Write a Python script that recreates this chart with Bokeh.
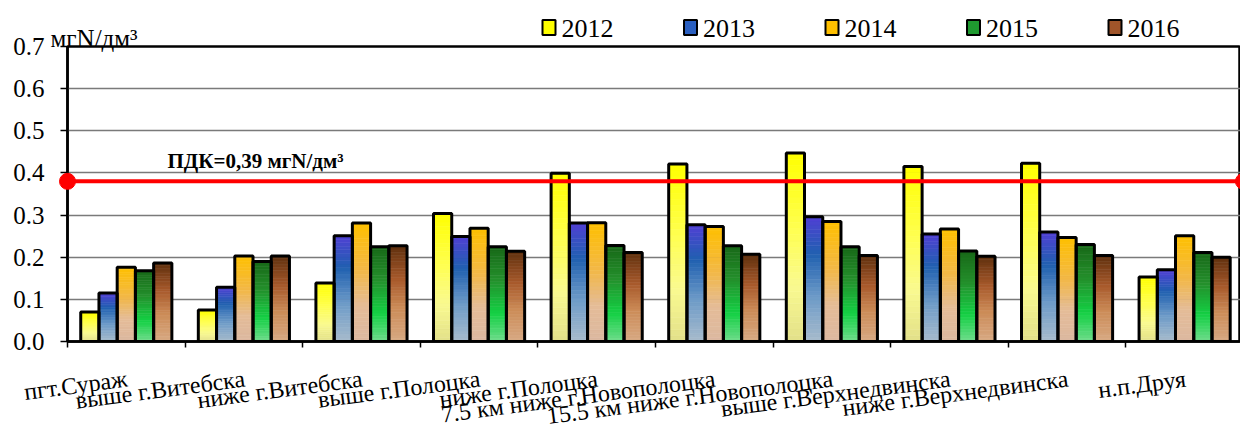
from bokeh.plotting import figure
from bokeh.models import Range1d, FixedTicker, PrintfTickFormatter, ColumnDataSource
from bokeh.core.properties import value
from bokeh.embed import file_html
from bokeh.resources import INLINE

# ---------------- data ----------------
categories = ["пгт.Сураж", "выше г.Витебска", "ниже г.Витебска", "выше г.Полоцка",
              "ниже г.Полоцка", "7.5 км ниже г.Новополоцка", "15.5 км ниже г.Новополоцка",
              "выше г.Верхнедвинска", "ниже г.Верхнедвинска", "н.п.Друя"]
years = ["2012", "2013", "2014", "2015", "2016"]
v2012 = [0.070, 0.075, 0.139, 0.304, 0.399, 0.421, 0.447, 0.415, 0.423, 0.153]
v2013 = [0.115, 0.129, 0.251, 0.249, 0.281, 0.277, 0.296, 0.255, 0.260, 0.170]
v2014 = [0.176, 0.203, 0.281, 0.269, 0.282, 0.273, 0.285, 0.267, 0.247, 0.251]
v2015 = [0.168, 0.190, 0.225, 0.225, 0.228, 0.227, 0.225, 0.215, 0.230, 0.211]
v2016 = [0.186, 0.203, 0.227, 0.214, 0.211, 0.207, 0.204, 0.202, 0.204, 0.200]
series = [v2012, v2013, v2014, v2015, v2016]
y_ticks = [0.0, 0.1, 0.2, 0.3, 0.4, 0.5, 0.6, 0.7]
pdk_level = 0.38
pdk_text = "ПДК=0,39 мгN/дм³"
y_title = "мгN/дм³"

# ---------------- styles / layout ----------------
FONT = "Liberation Serif"
legend_colors = ["#ffff00", "#2a5fc0", "#ffc000", "#1f9a30", "#a0552a"]
# gradient stops: (fraction from bottom, colour)
gradients = [
    [(0.0, "#e2e08a"), (0.3, "#fafa90"), (0.6, "#ffff50"), (1.0, "#ffff00")],
    [(0.0, "#a8bccc"), (0.35, "#6f9cc8"), (0.7, "#2060b0"), (1.0, "#5040d4")],
    [(0.0, "#dcb8a0"), (0.3, "#e4bc98"), (0.6, "#f2b848"), (1.0, "#ffc000")],
    [(0.0, "#70dc8c"), (0.3, "#14d044"), (0.65, "#24902c"), (1.0, "#186818")],
    [(0.0, "#d8aa84"), (0.35, "#cc8c58"), (0.65, "#a85a2c"), (1.0, "#60300e")],
]
bar_w = 0.155
N_SLICES = 30
W, H = 1240, 428
BL, BT, BB = 67, 46, 87
frame_w = W - BL
frame_h = H - BT - BB
x_end = 9.975
y_end = y_ticks[-1]
ppx = frame_w / x_end          # pixels per x unit
ppy = frame_h / y_end          # pixels per y unit


def hex2rgb(h):
    h = h.lstrip("#")
    return tuple(int(h[i:i + 2], 16) for i in (0, 2, 4))


def interp(stops, t):
    for (t0, c0), (t1, c1) in zip(stops[:-1], stops[1:]):
        if t <= t1:
            f = (t - t0) / (t1 - t0) if t1 > t0 else 0
            a, b = hex2rgb(c0), hex2rgb(c1)
            r = [round(a[k] + (b[k] - a[k]) * f) for k in range(3)]
            return "#%02x%02x%02x" % tuple(r)
    return stops[-1][1]


n = len(categories)

p = figure(width=W, height=H, output_backend="svg", toolbar_location=None,
           x_range=Range1d(0, x_end), y_range=Range1d(0, y_end),
           min_border_left=BL, min_border_right=0, min_border_top=BT, min_border_bottom=BB,
           background_fill_color="white", border_fill_color="white")
p.title.visible = False
p.outline_line_color = "black"
p.outline_line_width = 2.5

# axes
p.xaxis.ticker = FixedTicker(ticks=list(range(n + 1)))
p.xaxis.major_label_overrides = {k: "" for k in range(n + 1)}
p.xaxis.major_tick_out = 6
p.xaxis.major_tick_in = 0
p.xaxis.minor_tick_line_color = None
p.xaxis.axis_line_width = 2.5
p.xaxis.major_tick_line_width = 1.5
p.xaxis.major_label_standoff = 0

p.yaxis.ticker = FixedTicker(ticks=y_ticks)
p.yaxis.formatter = PrintfTickFormatter(format="%.1f")
p.yaxis.major_label_text_font = FONT
p.yaxis.major_label_text_font_size = "25px"
p.yaxis.major_label_text_color = "black"
p.yaxis.major_tick_out = 7
p.yaxis.major_tick_in = 0
p.yaxis.minor_tick_line_color = None
p.yaxis.axis_line_width = 2.5
p.yaxis.major_tick_line_width = 1.5
p.yaxis.major_label_standoff = 16

p.xgrid.grid_line_color = None
p.ygrid.ticker = FixedTicker(ticks=y_ticks)
p.ygrid.grid_line_color = "#7a7a7a"
p.ygrid.grid_line_width = 1.5

# gradient slices
xs, bs, ts, cs = [], [], [], []
for j, vals in enumerate(series):
    for i, v in enumerate(vals):
        xc = i + 0.5 + (j - 2) * bar_w
        for k in range(N_SLICES):
            xs.append(xc)
            bs.append(v * k / N_SLICES)
            ts.append(v * (k + 1) / N_SLICES)
            cs.append(interp(gradients[j], (k + 0.5) / N_SLICES))
src = ColumnDataSource(dict(x=xs, b=bs, t=ts, c=cs))
p.vbar(x="x", bottom="b", top="t", width=bar_w, fill_color="c", line_color="c",
       line_width=0.6, source=src)

# bar outlines
for j, vals in enumerate(series):
    bx = [i + 0.5 + (j - 2) * bar_w for i in range(n)]
    p.vbar(x=bx, top=vals, width=bar_w, fill_color=None, line_color="black", line_width=3)

# PDK line
p.line(x=[0, n], y=[pdk_level, pdk_level], line_color="#ff0000", line_width=4)
p.scatter(x=[0, n], y=[pdk_level, pdk_level], size=16, fill_color="#ff0000",
          line_color="#ff0000", level="overlay")

# legend (drawn with glyphs above the frame)
leg_left_px = 475.0
leg_pitch_px = 141.5
leg_sq_w, leg_sq_h = 13, 15
leg_y = y_end + 19 / ppy
leg_x = [(leg_left_px + leg_sq_w / 2 + k * leg_pitch_px) / ppx for k in range(len(years))]
p.rect(x=leg_x, y=[leg_y] * len(years), width=leg_sq_w, height=leg_sq_h,
       width_units="screen", height_units="screen", fill_color=legend_colors,
       line_color="black", line_width=2, level="overlay")
p.text(x=leg_x, y=[leg_y] * len(years), text=years, x_offset=leg_sq_w / 2 + 6, y_offset=1,
       text_font=value(FONT), text_font_size=value("26px"), text_color="black",
       text_align="left", text_baseline="middle", level="overlay")

# category labels
p.text(x=[i + 0.5 for i in range(n)], y=[0] * n, text=categories,
       angle=7.5, angle_units="deg", x_offset=1, y_offset=37,
       text_align="right", text_baseline="alphabetic",
       text_font=value(FONT), text_font_size=value("24px"), text_color="black",
       level="overlay")

# y title
p.text(x=[0], y=[y_end], text=[y_title], x_offset=-17, y_offset=-8,
       text_font=value(FONT), text_font_size=value("25px"), text_color="black",
       text_align="left", text_baseline="alphabetic", level="overlay")

# PDK label
p.text(x=[0], y=[pdk_level], text=[pdk_text], x_offset=100, y_offset=-20,
       text_font=value(FONT), text_font_size=value("21px"), text_font_style="bold",
       text_color="black", text_align="left", text_baseline="alphabetic", level="overlay")

open("out.html", "w").write(file_html(p, INLINE))
